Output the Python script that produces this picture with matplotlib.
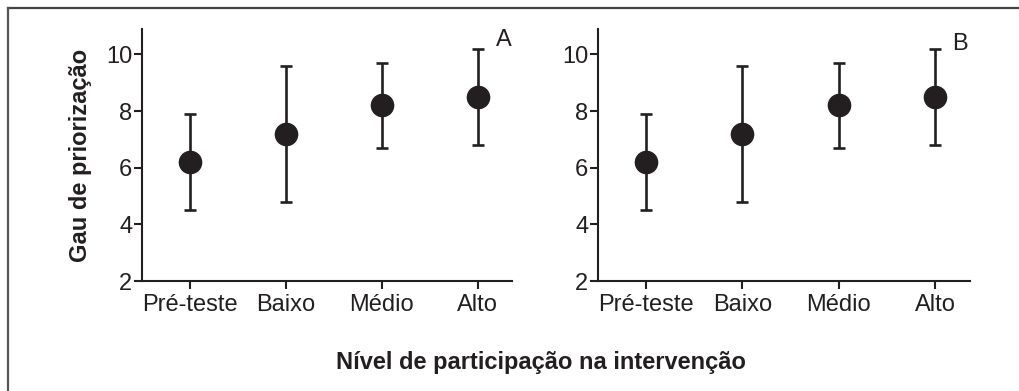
import matplotlib.pyplot as plt
from matplotlib.lines import Line2D

# -----------------------------
# Data
# -----------------------------
categories = ["Pré-teste", "Baixo", "Médio", "Alto"]
means_a = [6.2, 7.2, 8.2, 8.5]
lower_a = [4.5, 4.8, 6.7, 6.8]
upper_a = [7.9, 9.6, 9.7, 10.2]
means_b = [6.2, 7.2, 8.2, 8.5]
lower_b = [4.5, 4.8, 6.7, 6.8]
upper_b = [7.9, 9.6, 9.7, 10.2]
yticks = [2, 4, 6, 8, 10]

plt.rcParams['font.family'] = ['Liberation Sans', 'DejaVu Sans']
ink = "#231f20"

fig = plt.figure(figsize=(10.19, 3.91), dpi=100)

# frame (top and left only, as in the original scan)
fig.add_artist(Line2D([0.008, 1.0], [0.980, 0.980], color="#444444", lw=1.6,
                      transform=fig.transFigure))
fig.add_artist(Line2D([0.008, 0.008], [0.0, 0.980], color="#555555", lw=1.6,
                      transform=fig.transFigure))


def panel(ax, means, lo, hi, letter):
    x = list(range(len(categories)))
    err = [[m - l for m, l in zip(means, lo)], [h - m for m, h in zip(means, hi)]]
    ax.errorbar(x, means, yerr=err, fmt='o', color=ink, ms=16, elinewidth=1.9,
                capsize=4, capthick=1.9)
    ax.set_xlim(-0.5, 3.36)
    ax.set_ylim(2, 10.9)
    ax.set_xticks(x)
    ax.set_xticklabels(categories)
    ax.set_yticks(yticks)
    ax.spines['top'].set_visible(False)
    ax.spines['right'].set_visible(False)
    for s in ['left', 'bottom']:
        ax.spines[s].set_linewidth(1.5)
        ax.spines[s].set_color(ink)
    ax.tick_params(axis='both', labelsize=17, width=1.5, length=6,
                   color=ink, labelcolor=ink)
    ax.tick_params(axis='y', pad=1)
    ax.tick_params(axis='x', pad=3)
    ax.text(1.0, 1.0, letter, transform=ax.transAxes, ha='right', va='top',
            fontsize=17, color=ink)


ax1 = fig.add_axes([0.1394, 0.2813, 0.3631, 0.6445])
ax2 = fig.add_axes([0.5868, 0.2813, 0.3650, 0.6445])
panel(ax1, means_a, lower_a, upper_a, "A")
panel(ax2, means_b, lower_b, upper_b, "B")
ax2.texts[0].set_position((0.995, 0.985))

ax1.set_ylabel("Gau de priorização", fontsize=17, fontweight='bold',
               color=ink, labelpad=10)
fig.text(0.531, 0.072, "Nível de participação na intervenção", ha='center',
         va='center', fontsize=17, fontweight='bold', color=ink)

plt.savefig("out.png", dpi=100)
plt.close()
